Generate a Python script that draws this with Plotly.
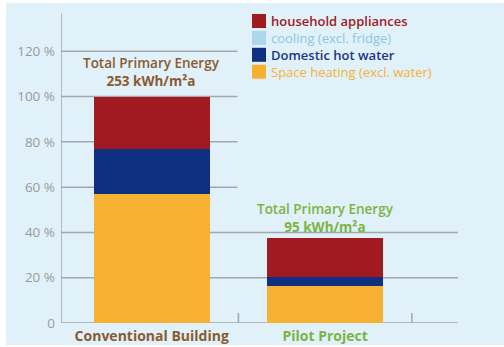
import plotly.graph_objects as go

# Shares of primary energy (% of the conventional building's total)
categories = [0, 1]
category_labels = ["Conventional Building", "Pilot Project"]
space_heating = [57, 16.5]
domestic_hot_water = [20, 4]
cooling = [0, 0]
household_appliances = [23, 17]
total_kwh = [253, 95]

y_ticks = [0, 20, 40, 60, 80, 100, 120]
y_tick_text = ["0", "20 %", "40 %", "60 %", "80 %", "100 %", "120 %"]

series = [
    ("Space heating (excl. water)", space_heating, "#f6b133"),
    ("Domestic hot water", domestic_hot_water, "#0f2f80"),
    ("cooling (excl. fridge)", cooling, "#add6ec"),
    ("household appliances", household_appliances, "#a11a22"),
]

brown = "#8a5a30"
green = "#7cb342"
grid = "#a3a7aa"
bg = "#e0f1f9"
font = "Open Sans"

fig = go.Figure()
for name, vals, col in series:
    fig.add_trace(go.Bar(x=categories, y=vals, name=name, marker_color=col,
                         marker_line_width=0, width=0.67, showlegend=False))

X0, X1, XMID = -0.523, 1.766, 0.494
shapes = []
# page background panel
shapes.append(dict(type="rect", xref="paper", yref="paper",
                   x0=-55 / 397, x1=443 / 397, y0=-22 / 310, y1=320 / 310,
                   fillcolor=bg, line_width=0, layer="below"))
# horizontal guide lines
for v in y_ticks:
    shapes.append(dict(type="line", xref="x", yref="y", x0=X0,
                       x1=X1 if v <= 40 else XMID, y0=v, y1=v,
                       line=dict(color=grid, width=1.5), layer="below"))
# category separators on the baseline
for xv in [0.5, 1.5]:
    shapes.append(dict(type="line", xref="x", yref="y", x0=xv, x1=xv, y0=0, y1=4.4,
                       line=dict(color=grid, width=1.5), layer="below"))
# vertical axis
shapes.append(dict(type="line", xref="x", yref="paper", x0=X0, x1=X0, y0=0, y1=1,
                   line=dict(color=grid, width=1.5), layer="below"))

# legend: swatches plus one multi-line label block
legend_rows = [
    ("household appliances", "#a11a22", "#a11a22", 600),
    ("cooling (excl. fridge)", "#add6ec", "#8cc6e4", 500),
    ("Domestic hot water", "#0f2f80", "#1d3585", 600),
    ("Space heating (excl. water)", "#f6b133", "#f6b133", 500),
]
legend_size = 13
row_h = 1.3 * legend_size
annotations = []
lines = []
for i, (txt, sw, tc, wt) in enumerate(legend_rows):
    cy = 21 + i * row_h
    shapes.append(dict(type="rect", xref="paper", yref="paper",
                       x0=(252 - 61) / 397, x1=(266 - 61) / 397,
                       y0=(323 - cy - 7) / 310, y1=(323 - cy + 7) / 310,
                       fillcolor=sw, line_width=0))
    lines.append(f"<span style='color:{tc};font-weight:{wt}'>{txt}</span>")
annotations.append(dict(xref="paper", yref="paper", x=(269 - 61) / 397,
                        y=(323 - (21 + 1.5 * row_h)) / 310, xanchor="left",
                        yanchor="middle", align="left", text="<br>".join(lines),
                        showarrow=False,
                        font=dict(family=font, size=legend_size)))

# total energy labels above bars
totals = [sum(v) for v in zip(space_heating, domestic_hot_water, cooling, household_appliances)]
for xv, tot, kwh, col, shift in zip(categories, totals, total_kwh, [brown, green], [5, 0]):
    annotations.append(dict(x=xv, y=tot, xref="x", yref="y", yanchor="bottom",
                            yshift=shift, showarrow=False, align="center",
                            text=f"<span style='font-weight:600'>Total Primary Energy</span><br><b>{kwh} kWh/m²a</b>",
                            font=dict(family=font, size=13.5, color=col)))

tick_colors = [brown, green]
fig.update_layout(
    width=504, height=347,
    margin=dict(l=61, r=46, t=13, b=24, autoexpand=False),
    paper_bgcolor="white", plot_bgcolor="rgba(0,0,0,0)",
    bargap=0.33, barmode="stack",
    shapes=shapes, annotations=annotations,
    font=dict(family=font),
    xaxis=dict(range=[X0, X1], tickvals=categories,
               ticktext=[f"<span style='color:{c}'><b>{t}</b></span>"
                         for t, c in zip(category_labels, tick_colors)],
               tickfont=dict(size=14, family=font), showgrid=False, zeroline=False,
               showline=False, ticks="", ticklabelstandoff=3, automargin=False),
    yaxis=dict(range=[0, 136.9], tickvals=y_ticks, ticktext=y_tick_text,
               tickfont=dict(size=13.5, color="#9a9a9a", family=font),
               showgrid=False, zeroline=False, showline=False, ticks="",
               ticklabelstandoff=5, automargin=False),
)

fig.write_html("out.html")
